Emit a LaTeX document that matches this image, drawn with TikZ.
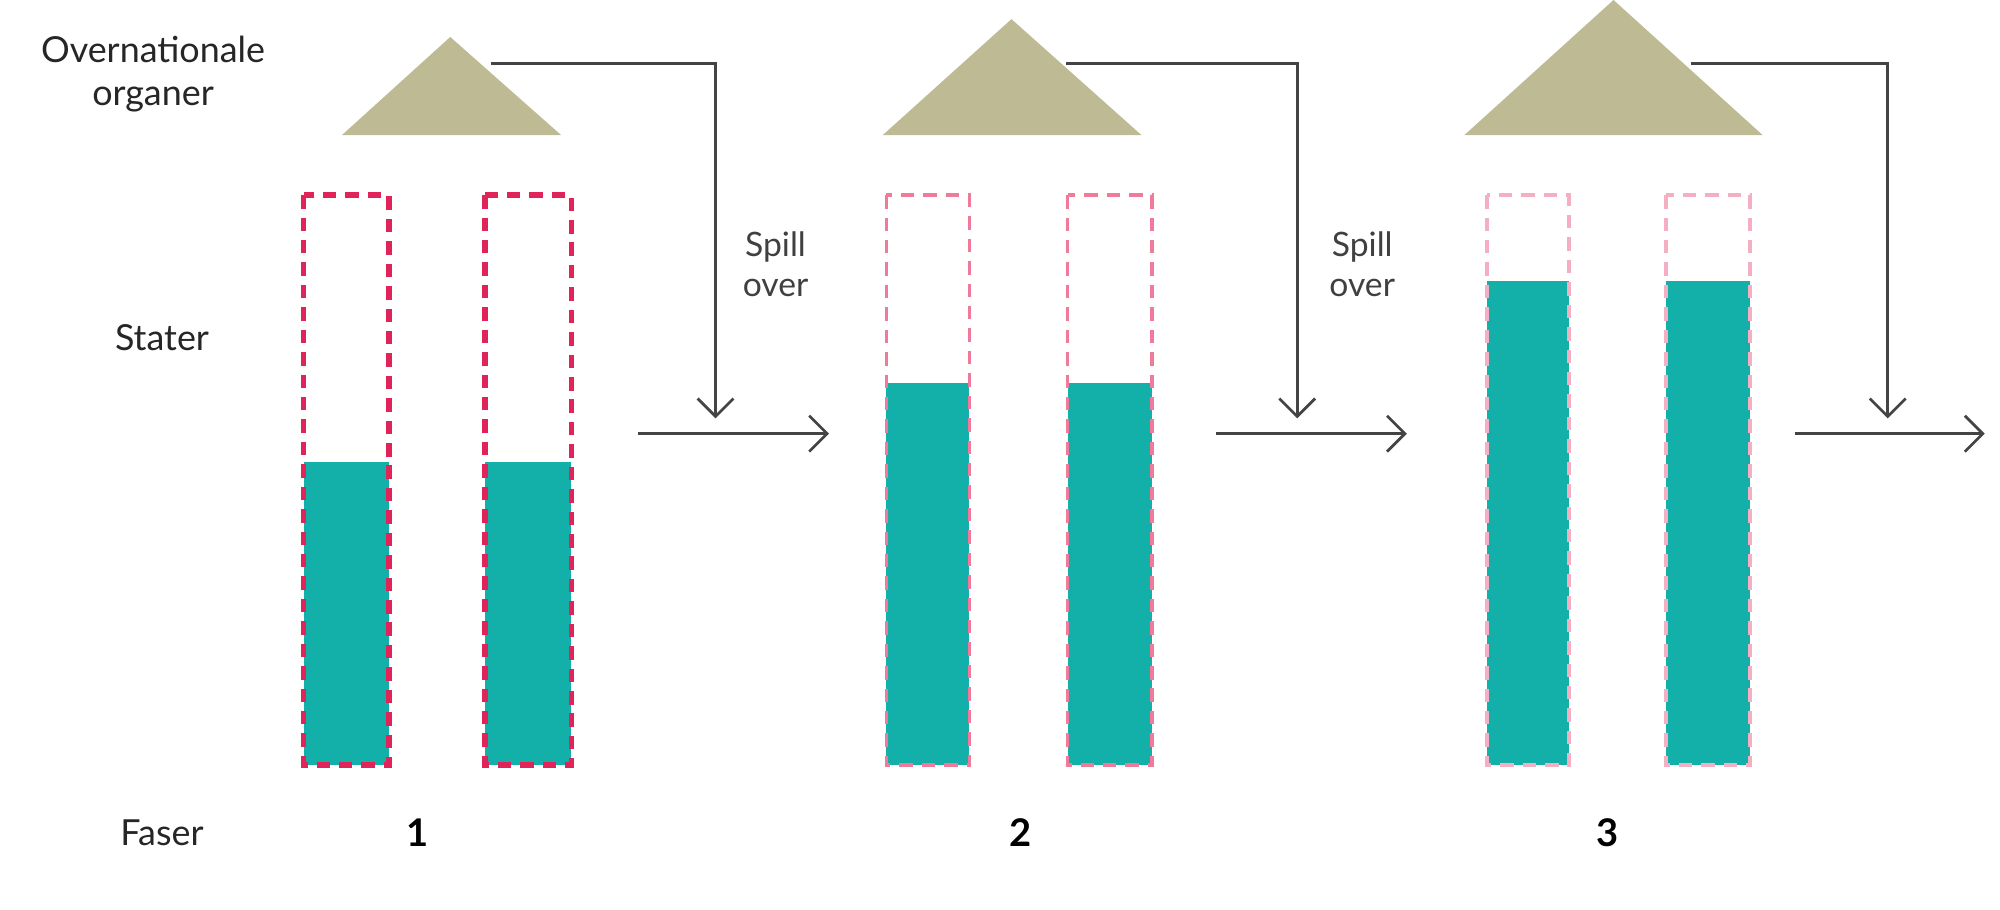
\documentclass[tikz,border=0pt]{standalone}
\usepackage{fontspec}
\setmainfont{Lato}
\usetikzlibrary{arrows.meta}
\definecolor{tan}{HTML}{BDBA94}
\definecolor{teal2}{HTML}{13AFA9}
\definecolor{red1}{HTML}{E0245A}
\definecolor{pink2}{HTML}{F07A9A}
\definecolor{pink3}{HTML}{F5AFC2}
\definecolor{line}{HTML}{444444}
\begin{document}
\begin{tikzpicture}[x=0.01cm,y=-0.01cm,
  lbl/.style={font=\fontsize{8}{9.5}\selectfont,text=black!85,align=center,inner sep=0},
  num/.style={font=\fontsize{8.5}{10}\selectfont\bfseries,inner sep=0},
  spill/.style={font=\fontsize{7.5}{9}\selectfont,text=black!75,align=center,inner sep=0},
  conn/.style={draw=line,line width=0.6pt,-{Straight Barb[length=4pt,width=8pt]}},
  fillbar/.style={fill=teal2},
  roof/.style={fill=tan}]
\useasboundingbox (0,0) rectangle (1568,713);
% roofs
\fill[roof] (268,106) -- (353,29) -- (440,106) -- cycle;
\fill[roof] (692,106) -- (793,15) -- (895,106) -- cycle;
\fill[roof] (1148,106) -- (1265,0) -- (1382,106) -- cycle;
% bars
\foreach \xa/\xb/\t/\c/\w in {238/305/362/red1/1.3pt,380/448/362/red1/1.3pt,695/760/300/pink2/0.8pt,837/903/300/pink2/0.8pt,1166/1230/220/pink3/0.8pt,1306/1372/220/pink3/0.8pt}{
  \fill[fillbar] (\xa,\t) rectangle (\xb,600);
  \draw[\c,line width=\w,dash pattern=on 3pt off 2pt] (\xa,153) rectangle (\xb,600);
}
% connectors
\coordinate (r1) at (385,50); \coordinate (k1) at (561,50); \coordinate (d1) at (561,328);
\coordinate (r2) at (836,50); \coordinate (k2) at (1017,50); \coordinate (d2) at (1017,328);
\coordinate (r3) at (1326,50); \coordinate (k3) at (1480,50); \coordinate (d3) at (1480,328);
\draw[conn] (r1) -- (k1) -- (d1);
\draw[conn] (r2) -- (k2) -- (d2);
\draw[conn] (r3) -- (k3) -- (d3);
\coordinate (a1) at (500,340); \coordinate (b1) at (650,340);
\coordinate (a2) at (953,340); \coordinate (b2) at (1103,340);
\coordinate (a3) at (1407,340); \coordinate (b3) at (1556,340);
\draw[conn] (a1) -- (b1);
\draw[conn] (a2) -- (b2);
\draw[conn] (a3) -- (b3);
% labels
\node[lbl] (ov) at (120,58) {Overnationale\\organer};
\node[lbl] (st) at (127,265) {Stater};
\node[lbl] (fa) at (127,653) {Faser};
\node[num] (n1) at (327,653) {1};
\node[num] (n2) at (800,653) {2};
\node[num] (n3) at (1260,653) {3};
\node[spill] (s1) at (608,207) {Spill\\over};
\node[spill] (s2) at (1068,207) {Spill\\over};
\end{tikzpicture}
\end{document}
